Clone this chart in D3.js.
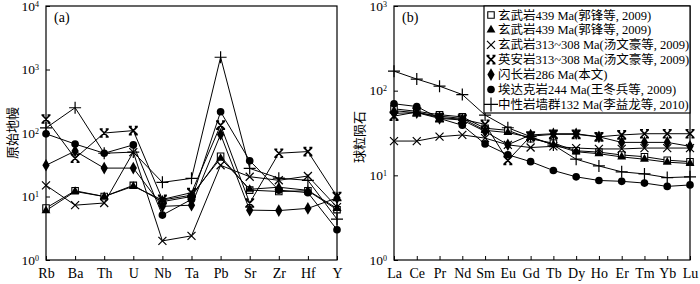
<!DOCTYPE html>
<html><head><meta charset="utf-8">
<script src="https://cdn.jsdelivr.net/npm/d3@7"></script>
<style>
body{margin:0;background:#fff;}
svg{display:block;}
text{font-family:"Liberation Serif","Noto Sans CJK SC",serif;fill:#000;}
</style></head>
<body>
<svg id="c" width="700" height="284"></svg>
<script>
// ---- data ----
const pmElements = ["Rb","Ba","Th","U","Nb","Ta","Pb","Sr","Zr","Hf","Y"];
const reeElements = ["La","Ce","Pr","Nd","Sm","Eu","Gd","Tb","Dy","Ho","Er","Tm","Yb","Lu"];
const seriesNames = ["玄武岩439 Ma(郭锋等, 2009)","玄武岩439 Ma(郭锋等, 2009)","玄武岩313~308 Ma(汤文豪等, 2009)","英安岩313~308 Ma(汤文豪等, 2009)","闪长岩286 Ma(本文)","埃达克岩244 Ma(王冬兵等, 2009)","中性岩墙群132 Ma(李益龙等, 2010)"];
const seriesMarkers = ["square","triangle","cross","bowtie","diamond","circle","plus"];

const pmBasalt439a = [6.6, 12.3, 10, 15, 8.3, 10, 43, 12.6, 12, 12.3, 6.2];
const pmBasalt439b = [6.0, 12, 10, 14.5, 8.8, 10.5, 40, 13, 14, 12.5, 6.5];
const pmBasalt313 = [15, 7.3, 7.9, 50, 2.0, 2.4, 31, 20.5, 18, 21, 6.8];
const pmDacite313 = [166, 40, 100, 109, 9, 11.5, 133, 7.9, 48, 51, 10];
const pmDiorite286 = [31, 52, 28, 28, 7, 7.3, 95, 6.1, 6.0, 6.5, 9.5];
const pmAdakite244 = [97, 67, 48, 65, 5.1, 9, 216, 36.6, 12.6, 11.5, 3.0];
const pmDyke132 = [120, 250, 48, 50, 16.7, 19.3, 1560, 27.7, 19.4, 18, 4.4];

const reeBasalt439a = [61, 57, 52, 49, 36, 34, 27, 24, 19.5, 18.8, 17.4, 16.6, 15.1, 14.5];
const reeBasalt439b = [58, 55, 50, 47, 34, 32, 28, 23, 19, 18, 16.5, 15.5, 14.3, 13.8];
const reeBasalt313 = [25.4, 25.4, 28.6, 30, 27.5, 22.9, 21.3, 22, 21, 20.5, 20.5, 21, 21, 21];
const reeDacite313 = [50, 56, 48, 46, 40, 15, 29, 30.5, 30.5, 28.5, 30, 31, 31, 31];
const reeDiorite286 = [54, 55, 47, 45, 33, 23, 30, 31, 31, 28.5, 24.5, 24.5, 24.5, 22];
const reeAdakite244 = [70, 65, 47, 39, 23.5, 17.5, 14.5, 11.4, 9.6, 8.7, 8.5, 8.1, 7.4, 7.7];
const reeDyke132 = [170, 137, 113, 90, 51.5, 36.5, 28.6, 22.8, 15.5, 12.9, 11.0, 10.4, 9.4, 9.6];

const pmTicks = [1, 10, 100, 1000, 10000];
const reeTicks = [1, 10, 100, 1000];

const pmSeries = [pmBasalt439a, pmBasalt439b, pmBasalt313, pmDacite313, pmDiorite286, pmAdakite244, pmDyke132];
const reeSeries = [reeBasalt439a, reeBasalt439b, reeBasalt313, reeDacite313, reeDiorite286, reeAdakite244, reeDyke132];

// ---- drawing ----
const svg = d3.select("#c");

function markerPath(type, big){
  const p = big ? 7 : 6;
  switch(type){
    case "square": return d3.symbol(d3.symbolSquare, 42)();
    case "triangle": return d3.symbol(d3.symbolTriangle, 34)();
    case "diamond": return d3.symbol(d3.symbolDiamond, 46)();
    case "circle": return d3.symbol(d3.symbolCircle, 46)();
    case "cross": return "M-4,-4L4,4M-4,4L4,-4";
    case "bowtie": return "M-4,-4L4,4M-4,4L4,-4M-4.5,-4L-1.5,-4M1.5,-4L4.5,-4M-4.5,4L-1.5,4M1.5,4L4.5,4";
    case "plus": return `M-${p},0L${p},0M0,-${p}L0,${p}`;
  }
}
function styleMarker(sel, type){
  if(type==="square"){ sel.attr("fill","#fff").attr("stroke","#000").attr("stroke-width",1.1); }
  else if(type==="cross"||type==="plus"){ sel.attr("fill","none").attr("stroke","#000").attr("stroke-width",1.2); }
  else if(type==="bowtie"){ sel.attr("fill","none").attr("stroke","#000").attr("stroke-width",1.7); }
  else { sel.attr("fill","#000").attr("stroke","none"); }
}

function supLabel(sel){
  sel.each(function(d){
    const t = d3.select(this);
    const e = Math.round(Math.log10(d));
    t.text(null);
    t.append("tspan").text("10");
    t.append("tspan").attr("dy","-0.5em").attr("font-size","8px").text(e);
  });
}

function panel(opts){
  const {x0,x1,y0,y1,cats,domain,ticks,series,label,ylab,ylabX,ylabY} = opts;
  const g = svg.append("g");
  const x = d3.scalePoint().domain(cats).range([x0,x1]).padding(0);
  const y = d3.scaleLog().domain(domain).range([y1,y0]);

  const line = d3.line().x((d,i)=>x(cats[i])).y(d=>y(d));
  series.forEach((s,k)=>{
    g.append("path").datum(s).attr("d",line).attr("fill","none").attr("stroke","#000").attr("stroke-width",1);
  });
  series.forEach((s,k)=>{
    const type = seriesMarkers[k];
    const m = g.selectAll(null).data(s).enter().append("path")
      .attr("d",markerPath(type,false))
      .attr("transform",(d,i)=>`translate(${x(cats[i])},${y(d)})`);
    styleMarker(m,type);
  });

  g.append("rect").attr("x",x0).attr("y",y0).attr("width",x1-x0).attr("height",y1-y0)
    .attr("fill","none").attr("stroke","#000").attr("stroke-width",1.2);

  const ya = d3.axisLeft(y).tickValues(ticks).tickSizeInner(-4).tickSizeOuter(0).tickPadding(7);
  const yg = g.append("g").attr("transform",`translate(${x0},0)`).call(ya);
  yg.select(".domain").remove();
  yg.selectAll(".tick line").attr("stroke","#000");
  yg.selectAll(".tick text").attr("font-size","13.5px").call(supLabel);

  const xa = d3.axisBottom(x).tickSizeInner(-4).tickSizeOuter(0).tickPadding(8);
  const xg = g.append("g").attr("transform",`translate(0,${y1})`).call(xa);
  xg.select(".domain").remove();
  xg.selectAll(".tick line").attr("stroke","#000");
  xg.selectAll(".tick text").attr("font-size","14px");

  g.append("text").attr("x",x0+8).attr("y",y0+16).attr("font-size","14px").text(label);

  g.append("text").attr("transform",`translate(${ylabX},${ylabY}) rotate(-90)`)
    .attr("text-anchor","middle").attr("font-size","13px").style("font-family","'Noto Sans CJK SC'").style("fill","#000")
    .text(ylab);
  return {g,x,y};
}

panel({x0:46,x1:337,y0:6,y1:260,cats:pmElements,domain:[1,1e4],ticks:pmTicks,series:pmSeries,label:"(a)",ylab:"原始地幔",ylabX:17,ylabY:133});
panel({x0:394,x1:690,y0:6,y1:260,cats:reeElements,domain:[1,1e3],ticks:reeTicks,series:reeSeries,label:"(b)",ylab:"球粒陨石",ylabX:364,ylabY:137});

const lg = svg.append("g");
lg.append("rect").attr("x",484).attr("y",6).attr("width",206).attr("height",107)
  .attr("fill","#fff").attr("stroke","#000").attr("stroke-width",1.2);
seriesNames.forEach((name,i)=>{
  const cy = 15 + i*14.9;
  const type = seriesMarkers[i];
  const m = lg.append("path").attr("d",markerPath(type,true)).attr("transform",`translate(491,${cy})`);
  styleMarker(m,type);
  lg.append("text").attr("x",498).attr("y",cy+4.5).attr("font-size","12.5px").text(name);
});
</script>
</body></html>
